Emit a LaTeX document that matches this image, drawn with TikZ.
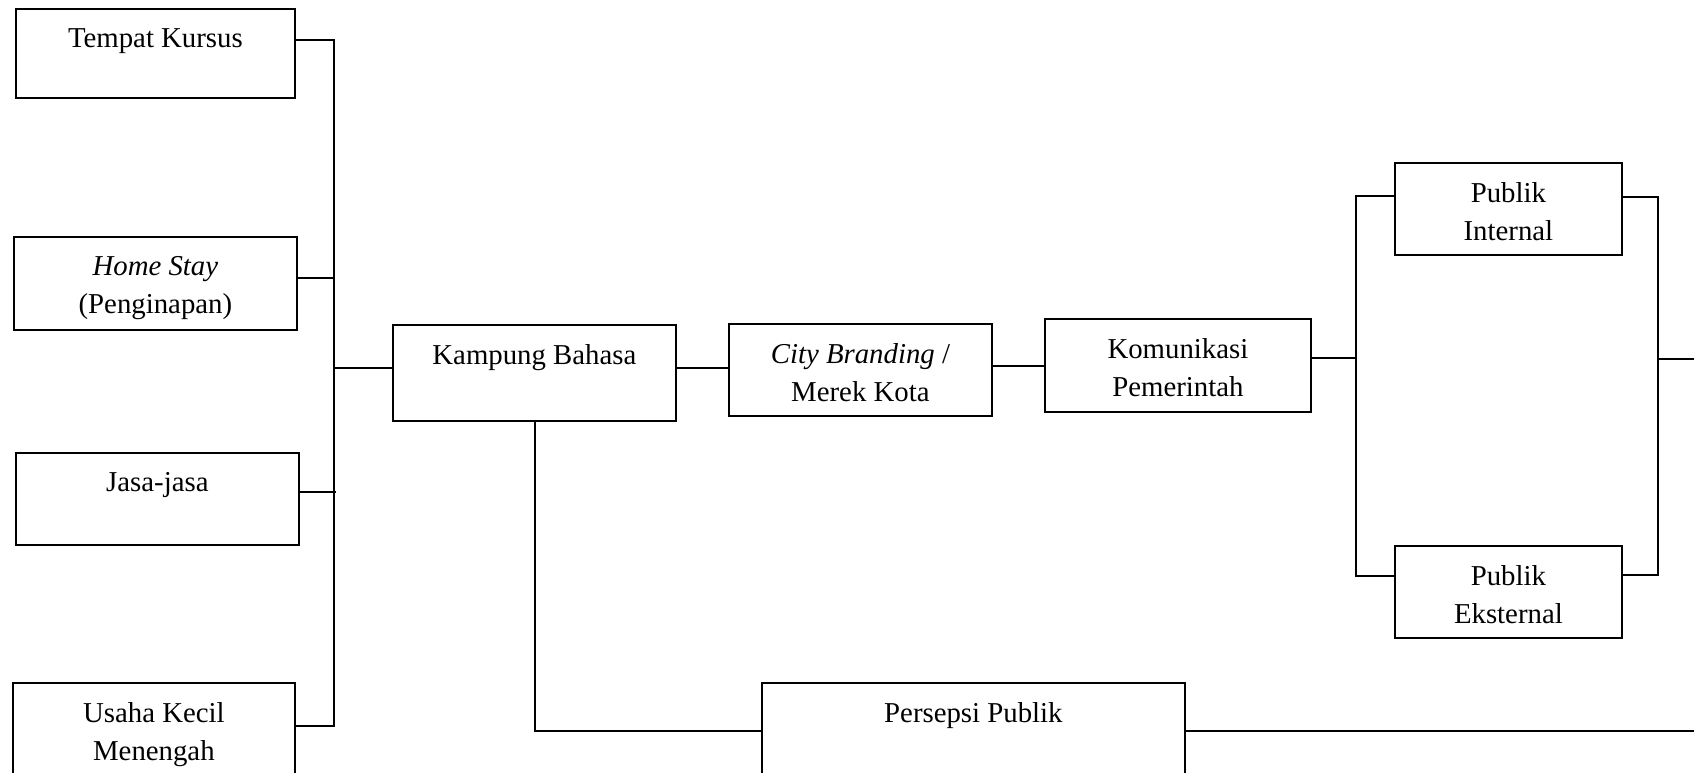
\documentclass[tikz,border=0pt]{standalone}
\usepackage{fontspec}
\setmainfont{Liberation Serif}
\usetikzlibrary{positioning}

\begin{document}
\begin{tikzpicture}[x=0.5pt, y=-0.5pt, line width=0.9pt,
        font=\fontsize{14.4}{19}\selectfont,
        kotak/.style={draw, anchor=north west, inner sep=0pt},
        teks/.style={anchor=north, inner sep=0pt, align=center, yshift=-10pt}]
      \useasboundingbox (0,0) rectangle (1694,772);
      % kiri
      \node[kotak, minimum width=139.5pt, minimum height=44.5pt,
            label={[teks]north:Tempat Kursus}] (kursus) at (15,8) {};
      \node[kotak, minimum width=141.5pt, minimum height=46.5pt,
            label={[teks]north:{\textit{Home Stay}\\(Penginapan)}}] (homestay) at (13,236) {};
      \node[kotak, minimum width=141.5pt, minimum height=46pt,
            label={[teks]north:Jasa-jasa}] (jasa) at (15,452) {};
      \node[kotak, minimum width=141pt, minimum height=48pt,
            label={[teks]north:{Usaha Kecil\\Menengah}}] (ukm) at (12,682) {};
      % tengah
      \node[kotak, minimum width=141.5pt, minimum height=48pt,
            label={[teks]north:Kampung Bahasa}] (kampung) at (392,324) {};
      \node[kotak, minimum width=131.5pt, minimum height=46pt,
            label={[teks]north:{\textit{City Branding} /\\Merek Kota}}] (city) at (728,323) {};
      \node[kotak, minimum width=133pt, minimum height=46.5pt,
            label={[teks]north:{Komunikasi\\Pemerintah}}] (komunikasi) at (1044,318) {};
      \node[kotak, minimum width=211.5pt, minimum height=48pt,
            label={[teks]north:Persepsi Publik}] (persepsi) at (761,682) {};
      % kanan
      \node[kotak, minimum width=113.5pt, minimum height=46pt,
            label={[teks]north:{Publik\\Internal}}] (internal) at (1394,162) {};
      \node[kotak, minimum width=113.5pt, minimum height=46pt, below=144.5pt of internal,
            label={[teks]north:{Publik\\Eksternal}}] (eksternal) {};

      \coordinate (ka) at (334,40);
      \coordinate (kb) at (334,726);
      \coordinate (kc) at (334,368);
      \coordinate (pa) at (1356,358);
      \coordinate (pb) at (1356,196);
      \coordinate (pc) at (1356,576);
      \coordinate (qa) at (1658,197);
      \coordinate (qb) at (1658,575);
      \coordinate (qc) at (1658,359);
      \coordinate (ujung1) at (1694,359);
      \coordinate (ujung2) at (1694,731);

      \draw (ka -| kursus.east) -- (ka) -- (kb) -- (kb -| ukm.east);
      \draw ([xshift=-1pt]homestay.east |- 0,278) -- (334,278);
      \draw ([xshift=-1pt]jasa.east |- 0,492) -- (336,492);
      \draw (kc) -- (kc -| kampung.west);
      \draw (kampung.east |- kc) -- (kc -| city.west);
      \draw (city.east |- 0,366) -- (komunikasi.west |- 0,366);
      \draw (komunikasi.east |- pa) -- (pa);
      \draw (pb -| internal.west) -- (pb) -- (pc) -- (pc -| eksternal.west);
      \draw (internal.east |- qa) -- (qa) -- (qb) -- ([xshift=-1pt]eksternal.east |- qb);
      \draw (qc) -- (ujung1);
      \draw ([xshift=0.25pt]kampung.south) |- (persepsi.west);
      \draw (persepsi.east) -- (persepsi.east -| ujung2);
    \end{tikzpicture}
\end{document}
